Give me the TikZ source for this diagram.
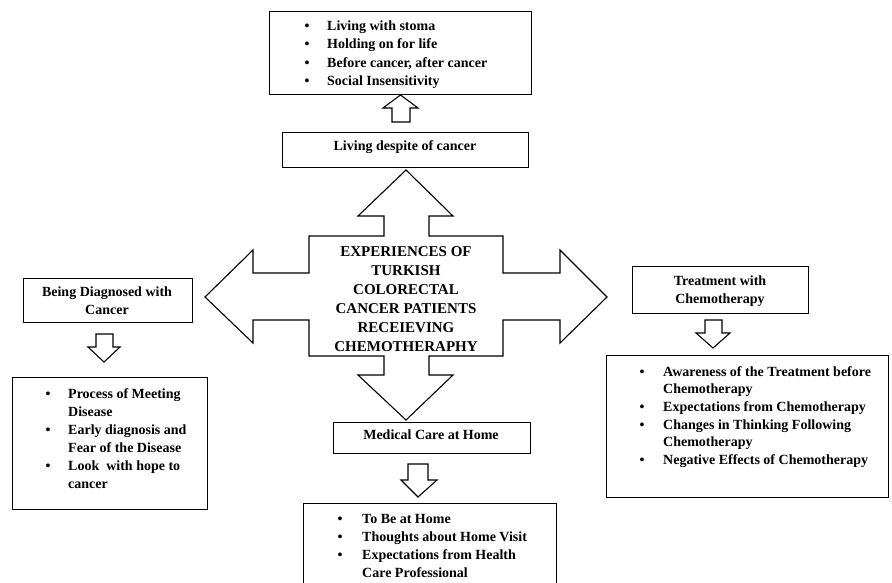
\documentclass[tikz,border=0pt]{standalone}
\usepackage{fontspec}
\setmainfont{Liberation Serif}
\begin{document}
\begin{tikzpicture}[x=1pt,y=-1pt,
  box/.style={draw,line width=1.1pt,anchor=north west,inner sep=0pt},
  txt/.style={inner sep=0pt,font=\fontsize{14}{18.5}\selectfont\bfseries},
  blk/.style={draw,line width=1.1pt,line join=miter,fill=white}]
\useasboundingbox (0,0) rectangle (892,582);
\clip (0,0) rectangle (892,582);
% top bullet box
\node[box,minimum width=262pt,minimum height=83pt] (topbox) at (269,11) {};
\node[txt,anchor=base west] (toptxt) at (304.5,30) {\fontsize{14}{18.6}\selectfont\begin{tabular}[t]{@{}p{22.5pt}@{}l@{}}
\textbullet & Living with stoma\\
\textbullet & Holding on for life\\
\textbullet & Before cancer, after cancer\\
\textbullet & Social Insensitivity
\end{tabular}};
% small up arrow
\draw[blk] (400.5,95) -- (418,108) -- (410,108) -- (410,122) -- (392,122) -- (392,108) -- (383,108) -- cycle;
% living despite
\node[box,minimum width=246pt,minimum height=35pt] (living) at (282,132) {};
\node[txt,anchor=base] (livingtxt) at (405,150) {Living despite of cancer};
% big cross arrow
\draw[blk] (406,170) -- (453,216) -- (429,216) -- (429,236) -- (503,236) -- (503,273) -- (560,273) -- (560,250) -- (607,297)
  -- (560,343) -- (560,320) -- (503,320) -- (503,356) -- (429,356) -- (429,375) -- (453,375) -- (406,420)
  -- (358,375) -- (384,375) -- (384,356) -- (309,356) -- (309,320) -- (253,320) -- (253,343) -- (205,297)
  -- (253,250) -- (253,273) -- (309,273) -- (309,236) -- (384,236) -- (384,216) -- (358,216) -- cycle;
\node[txt,anchor=base] (center) at (406,256) {\fontsize{15}{19}\selectfont\begin{tabular}[t]{@{}c@{}}
EXPERIENCES OF\\ TURKISH\\ COLORECTAL\\ CANCER PATIENTS\\ RECEIEVING\\ CHEMOTHERAPHY
\end{tabular}};
% left
\node[box,minimum width=169pt,minimum height=44pt] (diag) at (23,278) {};
\node[txt,anchor=base] (diagtxt) at (107,296) {\begin{tabular}[t]{@{}c@{}}Being Diagnosed with\\ Cancer\end{tabular}};
\draw[blk] (104,362) -- (120,347) -- (113,347) -- (113,334) -- (96,334) -- (96,347) -- (88,347) -- cycle;
\node[box,minimum width=195pt,minimum height=132pt] (diaglist) at (12,377) {};
\node[txt,anchor=base west] (diaglisttxt) at (45.5,398) {\fontsize{14}{18}\selectfont\begin{tabular}[t]{@{}p{22.5pt}@{}l@{}}
\textbullet & Process of Meeting\\
 & Disease\\
\textbullet & Early diagnosis and\\
 & Fear of the Disease\\
\textbullet & Look\ \ with hope to\\
 & cancer
\end{tabular}};
% right
\node[box,minimum width=176pt,minimum height=47pt] (treat) at (632,266) {};
\node[txt,anchor=base] (treattxt) at (720,285) {\begin{tabular}[t]{@{}c@{}}Treatment with\\ Chemotherapy\end{tabular}};
\draw[blk] (713,348) -- (730,333) -- (722,333) -- (722,320) -- (705,320) -- (705,333) -- (696,333) -- cycle;
\node[box,minimum width=282pt,minimum height=142pt] (treatlist) at (606,355) {};
\node[txt,anchor=base west] (treatlisttxt) at (639.5,376) {\fontsize{14}{17.7}\selectfont\begin{tabular}[t]{@{}p{23.5pt}@{}l@{}}
\textbullet & Awareness of the Treatment before\\
 & Chemotherapy\\
\textbullet & Expectations from Chemotherapy\\
\textbullet & Changes in Thinking Following\\
 & Chemotherapy\\
\textbullet & Negative Effects of Chemotherapy
\end{tabular}};
% bottom
\node[box,minimum width=197pt,minimum height=31pt] (home) at (333,422) {};
\node[txt,anchor=base] (hometxt) at (431,439) {Medical Care at Home};
\draw[blk] (418,497) -- (437,480) -- (428,480) -- (428,464) -- (408,464) -- (408,480) -- (401,480) -- cycle;
\node[box,minimum width=253pt,minimum height=100pt] (homelist) at (303,503) {};
\node[txt,anchor=base west] (homelisttxt) at (337.5,523) {\fontsize{14}{18.3}\selectfont\begin{tabular}[t]{@{}p{24.5pt}@{}l@{}}
\textbullet & To Be at Home\\
\textbullet & Thoughts about Home Visit\\
\textbullet & Expectations from Health\\
 & Care Professional
\end{tabular}};
\end{tikzpicture}
\end{document}
